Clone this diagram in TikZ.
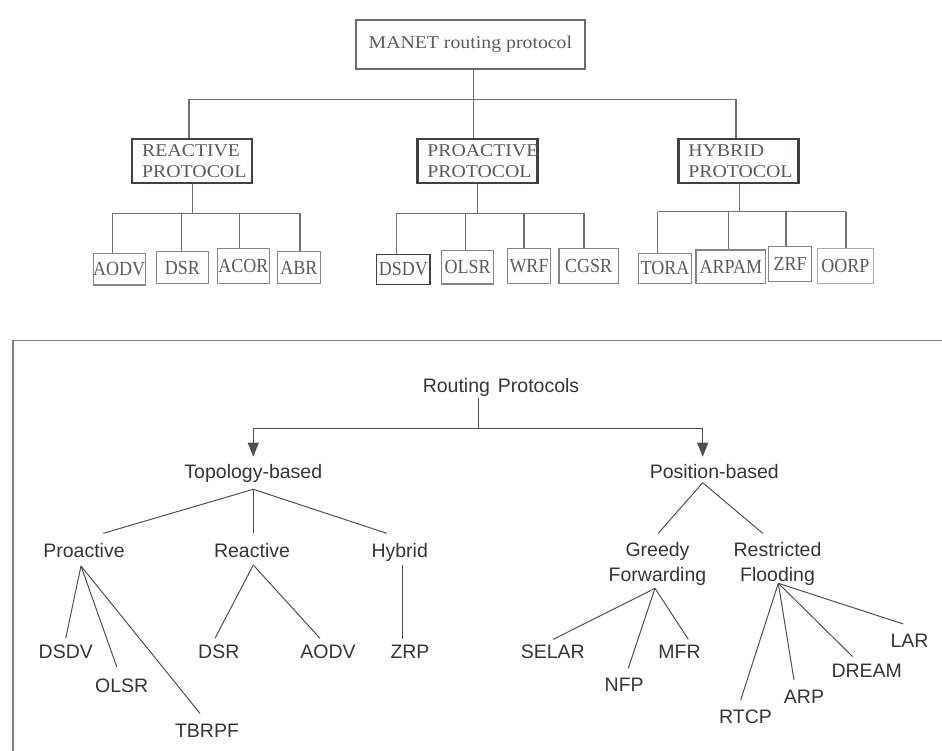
\documentclass[tikz,border=0pt]{standalone}
\usepackage{fontspec}
\setmainfont{Liberation Serif}
\newfontfamily\sansf{Liberation Sans}
\newfontfamily\serifw[FakeStretch=1.1]{Liberation Serif}
\newfontfamily\serifn[FakeStretch=0.9]{Liberation Serif}
\usetikzlibrary{arrows.meta}
\definecolor{lineg}{HTML}{707070}
\definecolor{catc}{HTML}{3A463C}
\definecolor{leafc}{HTML}{858585}
\definecolor{toptxt}{HTML}{5A5A5A}
\definecolor{bottxt}{HTML}{353535}
\definecolor{botln}{HTML}{505050}
\definecolor{framec}{HTML}{808080}
\begin{document}
\begin{tikzpicture}[x=1pt,y=-1pt,
  conn/.style={draw=lineg, line width=1.3pt},
  rootbox/.style={draw=toptxt!90, line width=1.8pt, inner sep=0pt, minimum width=229pt, minimum height=49pt,
    font=\serifw\fontsize{18}{21}\selectfont, text=toptxt},
  catbox/.style={draw=catc, line width=2.4pt, inner xsep=10pt, inner ysep=0pt, text width=100pt,
    minimum height=44pt, align=left, font=\serifw\fontsize{18}{21}\selectfont, text=toptxt},
  leafbox/.style={draw=leafc, line width=1.3pt, inner sep=0pt, font=\serifn\fontsize{20}{22}\selectfont, text=toptxt},
  lbl/.style={font=\sansf\fontsize{19.5}{25}\selectfont, text=bottxt, inner sep=0pt, anchor=base},
  lbl2/.style={font=\sansf\fontsize{19.5}{25}\selectfont, text=bottxt, inner sep=0pt, anchor=north, align=center},
  tline/.style={draw=botln, line width=1pt},
  arr/.style={tline, -{Triangle[length=14pt,width=11pt]}}
]
\useasboundingbox (0,0) rectangle (942,751);

% ---------------- top diagram ----------------
\node[rootbox] (manet) at (470.4,44.7) {MANET routing protocol\hspace{11pt}};
\node[catbox] (reactive) at (192.2,161.3) {REACTIVE\\PROTOCOL};
\node[catbox] (proactive) at (477.3,161.3) {PROACTIVE\\PROTOCOL};
\node[catbox] (hybrid) at (738.3,161.3) {HYBRID\\PROTOCOL};

\node[leafbox, minimum width=51.7pt, minimum height=31.7pt] (aodv) at (119.2,269.2) {AODV};
\node[leafbox, minimum width=51.6pt, minimum height=31.6pt] (dsr) at (182.5,267.5) {DSR};
\node[leafbox, minimum width=52pt, minimum height=35pt] (acor) at (243.3,265.8) {ACOR};
\node[leafbox, minimum width=43.4pt, minimum height=31.6pt] (abr) at (299,267.5) {ABR};

\node[leafbox, minimum width=53.3pt, minimum height=30pt, draw=catc] (dsdv) at (403.3,269.3) {DSDV};
\node[leafbox, minimum width=52.3pt, minimum height=33.3pt] (olsr) at (467.6,267.4) {OLSR};
\node[leafbox, minimum width=43.4pt, minimum height=35pt] (wrf) at (529,265.8) {WRF};
\node[leafbox, minimum width=59.3pt, minimum height=35pt] (cgsr) at (588.7,265.8) {CGSR};

\node[leafbox, minimum width=53.4pt, minimum height=30pt] (tora) at (665,268.3) {TORA};
\node[leafbox, minimum width=69.7pt, minimum height=33.3pt] (arpam) at (730.9,266.7) {ARPAM};
\node[leafbox, minimum width=43.4pt, minimum height=35pt] (zrf) at (790,264.2) {ZRF};
\node[leafbox, minimum width=56pt, minimum height=35pt, draw=leafc!70] (oorp) at (845.3,265.8) {OORP};

% root connectors
\coordinate (mj) at (473.5,99.3);
\coordinate (mbL) at (189,99.3);
\coordinate (mbR) at (736,99.3);
\draw[conn] (mj |- manet.south) -- (mj);
\draw[conn] (mbL) -- (mbR);
\draw[conn] (mbL) -- (mbL |- reactive.north);
\draw[conn] (mj) -- (mj |- proactive.north);
\draw[conn] (mbR) -- (mbR |- hybrid.north);

% reactive group
\coordinate (rj) at (192.7,213.3);
\coordinate (r1) at (112.3,213.3);
\coordinate (r2) at (181.7,213.3);
\coordinate (r3) at (239.3,213.3);
\coordinate (r4) at (300,213.3);
\draw[conn] (rj |- reactive.south) -- (rj);
\draw[conn] (r1) -- (r4);
\draw[conn] (r1) -- (r1 |- aodv.north);
\draw[conn] (r2) -- (r2 |- dsr.north);
\draw[conn] (r3) -- (r3 |- acor.north);
\draw[conn] (r4) -- (r4 |- abr.north);

% proactive group
\coordinate (pj) at (477.5,213.3);
\coordinate (p1) at (396.7,213.3);
\coordinate (p2) at (465.5,213.3);
\coordinate (p3) at (524,213.3);
\coordinate (p4) at (584,213.3);
\draw[conn] (pj |- proactive.south) -- (pj);
\draw[conn] (p1) -- (p4);
\draw[conn] (p1) -- (p1 |- dsdv.north);
\draw[conn] (p2) -- (p2 |- olsr.north);
\draw[conn] (p3) -- (p3 |- wrf.north);
\draw[conn] (p4) -- (p4 |- cgsr.north);

% hybrid group
\coordinate (hj) at (739.3,211.7);
\coordinate (h1) at (657.7,211.7);
\coordinate (h2) at (728.3,211.7);
\coordinate (h3) at (786,211.7);
\coordinate (h4) at (846,211.7);
\draw[conn] (hj |- hybrid.south) -- (hj);
\draw[conn] (h1) -- (h4);
\draw[conn] (h1) -- (h1 |- tora.north);
\draw[conn] (h2) -- (h2 |- arpam.north);
\draw[conn] (h3) -- (h3 |- zrf.north);
\draw[conn] (h4) -- (h4 |- oorp.north);

% ---------------- bottom diagram ----------------
\draw[draw=framec, line width=1.5pt] (13,751) -- (13,340.7) -- (942,340.7);

\node[lbl] (rp) at (501,392) {Routing\hspace{2.5pt} Protocols};
\node[lbl] (topo) at (253.3,478.7) {Topology-based};
\node[lbl] (pos) at (714.3,478.7) {Position-based};
\node[lbl] (proact) at (84,557) {Proactive};
\node[lbl] (react) at (252,557) {Reactive};
\node[lbl] (hyb) at (399.7,557) {Hybrid};
\node[lbl] (bdsdv) at (65.8,658.7) {DSDV};
\node[lbl] (bolsr) at (121.7,692) {OLSR};
\node[lbl] (tbrpf) at (207,737) {TBRPF};
\node[lbl] (bdsr) at (218.8,658.7) {DSR};
\node[lbl] (baodv) at (328,658.7) {AODV};
\node[lbl] (zrp) at (410,658.7) {ZRP};
\node[lbl2] (greedy) at (657.5,542) {Greedy\\Forwarding};
\node[lbl2] (restr) at (777.5,542) {Restricted\\Flooding};
\node[lbl] (selar) at (552.8,658.7) {SELAR};
\node[lbl] (nfp) at (624.2,691.3) {NFP};
\node[lbl] (mfr) at (679.5,658.7) {MFR};
\node[lbl] (rtcp) at (745.5,723) {RTCP};
\node[lbl] (arp) at (804,703) {ARP};
\node[lbl] (dream) at (866.7,677) {DREAM};
\node[lbl] (lar) at (909.5,647) {LAR};

% root split with arrows
\coordinate (rpj) at (478.3,428.3);
\coordinate (topoIn) at (253.3,456.7);
\coordinate (posIn) at (702.7,456.7);
\draw[tline] (rpj |- rp.south) ++(0,2) -- (rpj);
\draw[arr] (rpj) -| (topoIn);
\draw[arr] (rpj) -| (posIn);

% topology fan
\coordinate (tF) at (253.3,489.3);
\coordinate (eP) at (103.3,533.3);
\coordinate (eR) at (253.3,533.3);
\coordinate (eH) at (386.7,533.3);
\draw[tline] (tF) -- (eP);
\draw[tline] (tF) -- (eR);
\draw[tline] (tF) -- (eH);

% proactive fan
\coordinate (pF) at (81,566);
\coordinate (eDsdv) at (65.7,638.3);
\coordinate (eOlsr) at (116.7,666.7);
\coordinate (eTbrpf) at (200,713.3);
\draw[tline] (pF) -- (eDsdv);
\draw[tline] (pF) -- (eOlsr);
\draw[tline] (pF) -- (eTbrpf);

% reactive fan
\coordinate (rF) at (253.3,565);
\coordinate (eDsr) at (215,638.3);
\coordinate (eAodv) at (320,638.3);
\draw[tline] (rF) -- (eDsr);
\draw[tline] (rF) -- (eAodv);

% hybrid
\coordinate (hF) at (402.7,565);
\coordinate (eZrp) at (402.7,639.3);
\draw[tline] (hF) -- (eZrp);

% position fan
\coordinate (sF) at (702.7,482.7);
\coordinate (eG) at (658.3,533.3);
\coordinate (eRf) at (762.7,533.3);
\draw[tline] (sF) -- (eG);
\draw[tline] (sF) -- (eRf);

% greedy fan
\coordinate (gF) at (655,588.3);
\coordinate (eSelar) at (553.3,639.3);
\coordinate (eNfp) at (628.3,668.3);
\coordinate (eMfr) at (688.3,639.3);
\draw[tline] (gF) -- (eSelar);
\draw[tline] (gF) -- (eNfp);
\draw[tline] (gF) -- (eMfr);

% restricted fan
\coordinate (fF) at (778.3,583.3);
\coordinate (eRtcp) at (740.7,700);
\coordinate (eArp) at (794,680);
\coordinate (eDream) at (852.7,656.7);
\coordinate (eLar) at (903.3,624);
\draw[tline] (fF) -- (eRtcp);
\draw[tline] (fF) -- (eArp);
\draw[tline] (fF) -- (eDream);
\draw[tline] (fF) -- (eLar);
\end{tikzpicture}
\end{document}
